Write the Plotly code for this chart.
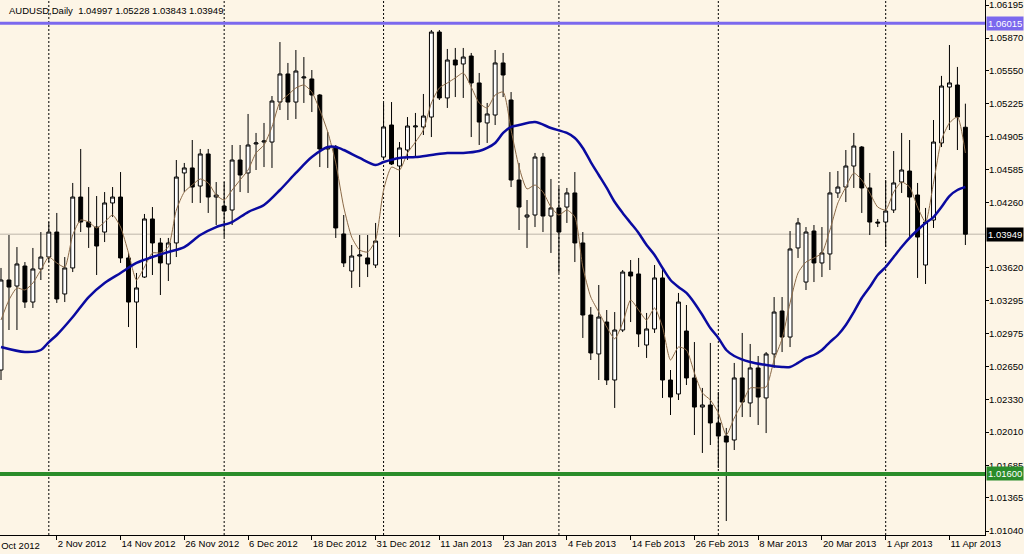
import plotly.graph_objects as go

# ---------------- data ----------------
symbol = "AUDUSD,Daily"

open_ = [1.02618, 1.03500, 1.03441, 1.03637, 1.03284, 1.03608, 1.03725, 1.03970, 1.03363, 1.03618,
         1.04313, 1.04068, 1.04019, 1.03970, 1.04255, 1.04313, 1.03716, 1.03284, 1.03529, 1.04098,
         1.03863, 1.03657, 1.03863, 1.04549, 1.04598, 1.04421, 1.04735, 1.04313, 1.04225, 1.04186,
         1.04676, 1.04549, 1.04833, 1.04852, 1.04852, 1.05244, 1.05519, 1.05244, 1.05480, 1.05470,
         1.05313, 1.04784, 1.04794, 1.03951, 1.03588, 1.03735, 1.03716, 1.03647, 1.04705, 1.05019,
         1.04617, 1.04774, 1.05000, 1.05000, 1.05097, 1.05930, 1.05284, 1.05656, 1.05617, 1.05695,
         1.05431, 1.05039, 1.05117, 1.05627, 1.05264, 1.04480, 1.04117, 1.04137, 1.04705, 1.04127,
         1.04206, 1.04215, 1.04353, 1.03863, 1.03157, 1.02775, 1.03088, 1.02520, 1.03010, 1.03578,
         1.03559, 1.02863, 1.03020, 1.03520, 1.02520, 1.02383, 1.03000, 1.02540, 1.02255, 1.02275,
         1.02099, 1.01971, 1.01932, 1.02540, 1.02295, 1.02638, 1.02344, 1.02775, 1.03196, 1.02941,
         1.03814, 1.03480, 1.03980, 1.03667, 1.03755, 1.04353, 1.04411, 1.04617, 1.04803, 1.04402,
         1.04068, 1.04068, 1.04186, 1.04460, 1.04568, 1.04333, 1.03647, 1.04088, 1.04843, 1.05391,
         1.05411, 1.04997]
high = [1.03618, 1.03941, 1.03823, 1.03676, 1.03814, 1.03970, 1.04068, 1.04157, 1.03725, 1.04451,
        1.04784, 1.04411, 1.04323, 1.04362, 1.04411, 1.04558, 1.03765, 1.03569, 1.04147, 1.04215,
        1.03912, 1.03912, 1.04676, 1.04647, 1.04872, 1.04784, 1.04784, 1.04460, 1.04460, 1.04823,
        1.04823, 1.05127, 1.04941, 1.05039, 1.05303, 1.05832, 1.05627, 1.05754, 1.05685, 1.05558,
        1.05323, 1.04950, 1.04823, 1.04137, 1.03843, 1.03941, 1.03941, 1.04059, 1.05235, 1.05244,
        1.04852, 1.05097, 1.05137, 1.05323, 1.05950, 1.05950, 1.05764, 1.05774, 1.05774, 1.05725,
        1.05529, 1.05235, 1.05754, 1.05725, 1.05342, 1.04647, 1.04284, 1.04745, 1.04745, 1.04490,
        1.04411, 1.04402, 1.04558, 1.03970, 1.03235, 1.03451, 1.03206, 1.03186, 1.03598, 1.03696,
        1.03716, 1.03177, 1.03647, 1.03618, 1.02618, 1.03373, 1.03255, 1.02892, 1.02442, 1.02883,
        1.02402, 1.02050, 1.02687, 1.02981, 1.02873, 1.02755, 1.02794, 1.03333, 1.03333, 1.03980,
        1.04108, 1.04019, 1.04039, 1.04019, 1.04558, 1.04568, 1.04774, 1.04941, 1.04813, 1.04549,
        1.04098, 1.04480, 1.04764, 1.04941, 1.04872, 1.04451, 1.04206, 1.05068, 1.05500, 1.05803,
        1.05588, 1.05228]
low = [1.02520, 1.03010, 1.03010, 1.03226, 1.03226, 1.03500, 1.03676, 1.03275, 1.03284, 1.03578,
       1.03970, 1.03814, 1.03549, 1.03872, 1.04117, 1.03667, 1.03039, 1.02834, 1.03520, 1.03549,
       1.03353, 1.03490, 1.03725, 1.04362, 1.04255, 1.04255, 1.04157, 1.04039, 1.03921, 1.04039,
       1.04362, 1.04353, 1.04578, 1.04607, 1.04598, 1.05166, 1.05068, 1.05078, 1.05235, 1.05146,
       1.04607, 1.04598, 1.03912, 1.03627, 1.03422, 1.03431, 1.03529, 1.03618, 1.04676, 1.04627,
       1.03921, 1.04676, 1.04705, 1.04921, 1.04901, 1.05264, 1.05186, 1.05293, 1.05284, 1.04901,
       1.04823, 1.04843, 1.05019, 1.05293, 1.04411, 1.03990, 1.03814, 1.04019, 1.03970, 1.03765,
       1.03569, 1.04059, 1.03676, 1.02932, 1.02716, 1.02520, 1.02471, 1.02246, 1.02990, 1.03088,
       1.02843, 1.02736, 1.02981, 1.02344, 1.02177, 1.02324, 1.02471, 1.01981, 1.01805, 1.01883,
       1.01658, 1.01138, 1.01834, 1.02157, 1.02157, 1.02079, 1.02000, 1.02638, 1.02794, 1.02843,
       1.03716, 1.03402, 1.03480, 1.03529, 1.03598, 1.04304, 1.04264, 1.04402, 1.04157, 1.03941,
       1.04019, 1.03823, 1.04157, 1.04353, 1.03921, 1.03520, 1.03461, 1.04010, 1.04803, 1.04970,
       1.04774, 1.03843]
close = [1.03500, 1.03431, 1.03657, 1.03284, 1.03608, 1.03725, 1.03970, 1.03314, 1.03618, 1.04313,
         1.04068, 1.04019, 1.03833, 1.04255, 1.04313, 1.03716, 1.03284, 1.03422, 1.04098, 1.03863,
         1.03667, 1.03863, 1.04509, 1.04598, 1.04411, 1.04735, 1.04313, 1.04333, 1.04176, 1.04676,
         1.04529, 1.04823, 1.04843, 1.04862, 1.05254, 1.05519, 1.05244, 1.05548, 1.05489, 1.05313,
         1.04784, 1.04803, 1.04010, 1.03667, 1.03735, 1.03745, 1.03657, 1.03882, 1.05000, 1.04637,
         1.04794, 1.05009, 1.05009, 1.05107, 1.05930, 1.05284, 1.05656, 1.05607, 1.05685, 1.05431,
         1.05048, 1.05127, 1.05627, 1.05509, 1.04480, 1.04215, 1.04137, 1.04705, 1.04127, 1.04206,
         1.03970, 1.04353, 1.03863, 1.03157, 1.02785, 1.03137, 1.02520, 1.03010, 1.03578, 1.03539,
         1.02971, 1.03020, 1.03520, 1.02520, 1.02353, 1.03284, 1.02540, 1.02255, 1.02275, 1.02099,
         1.01971, 1.01912, 1.02540, 1.02304, 1.02638, 1.02353, 1.02775, 1.03186, 1.02941, 1.03804,
         1.04059, 1.03970, 1.03667, 1.03765, 1.04353, 1.04411, 1.04617, 1.04813, 1.04402, 1.04068,
         1.04059, 1.04176, 1.04451, 1.04578, 1.04313, 1.03921, 1.04068, 1.04852, 1.05401, 1.05431,
         1.05097, 1.03949]

# thin brown moving average (one reading per bar)
fast_ma = [1.03108, 1.03304, 1.03422, 1.03402, 1.03471, 1.03598, 1.03725, 1.03667, 1.03627, 1.03941,
           1.04088, 1.04068, 1.04010, 1.04068, 1.04137, 1.04019, 1.03765, 1.03500, 1.03627, 1.03765,
           1.03765, 1.03823, 1.04186, 1.04362, 1.04431, 1.04490, 1.04451, 1.04333, 1.04284, 1.04382,
           1.04480, 1.04578, 1.04745, 1.04823, 1.05000, 1.05244, 1.05313, 1.05382, 1.05411, 1.05342,
           1.05166, 1.04950, 1.04647, 1.04215, 1.03921, 1.03794, 1.03774, 1.03892, 1.04382, 1.04607,
           1.04578, 1.04745, 1.04852, 1.04970, 1.05235, 1.05382, 1.05431, 1.05480, 1.05529, 1.05391,
           1.05235, 1.05186, 1.05313, 1.05342, 1.04970, 1.04607, 1.04392, 1.04431, 1.04362, 1.04215,
           1.04137, 1.04186, 1.04117, 1.03627, 1.03333, 1.03186, 1.03039, 1.02924, 1.03078, 1.03304,
           1.03206, 1.03108, 1.03226, 1.03039, 1.02716, 1.02843, 1.02814, 1.02589, 1.02393, 1.02324,
           1.02197, 1.01981, 1.02148, 1.02295, 1.02442, 1.02442, 1.02452, 1.02716, 1.02924, 1.03275,
           1.03569, 1.03676, 1.03716, 1.03765, 1.03990, 1.04255, 1.04411, 1.04549, 1.04480, 1.04353,
           1.04215, 1.04186, 1.04362, 1.04460, 1.04411, 1.04215, 1.04068, 1.04451, 1.04872, 1.05039,
           1.05097, 1.04745]

# thick blue moving average (read at these bars)
slow_ma_bars = [0, 3, 5, 6, 7, 9, 11, 13, 15, 17, 19, 21, 23, 25, 27, 29, 31, 33, 35, 37, 39, 41, 42, 43,
                45, 47, 48, 50, 52, 54, 56, 58, 60, 61, 62, 63, 64, 65, 67, 69, 71, 72, 73, 74, 75, 76,
                77, 78, 79, 80, 81, 82, 83, 84, 85, 86, 87, 88, 89, 90, 91, 92, 94, 96, 98, 99, 100,
                101, 102, 103, 104, 105, 106, 107, 108, 109, 110, 111, 112, 113, 114, 115, 116, 117,
                118, 119, 120, 121]
slow_ma = [1.02843, 1.02794, 1.02814, 1.02892, 1.02961, 1.03137, 1.03333, 1.03471, 1.03569, 1.03667,
           1.03725, 1.03774, 1.03823, 1.03941, 1.04019, 1.04068, 1.04166, 1.04235, 1.04382, 1.04549,
           1.04705, 1.04803, 1.04803, 1.04774, 1.04696, 1.04627, 1.04656, 1.04696, 1.04705, 1.04725,
           1.04745, 1.04745, 1.04764, 1.04794, 1.04843, 1.04941, 1.05000, 1.05019, 1.05048, 1.04990,
           1.04941, 1.04892, 1.04794, 1.04656, 1.04529, 1.04402, 1.04264, 1.04157, 1.04059, 1.03961,
           1.03843, 1.03745, 1.03618, 1.03500, 1.03431, 1.03373, 1.03275, 1.03157, 1.03030, 1.02932,
           1.02814, 1.02755, 1.02696, 1.02667, 1.02647, 1.02647, 1.02687, 1.02736, 1.02765, 1.02814,
           1.02892, 1.02961, 1.03059, 1.03186, 1.03324, 1.03431, 1.03549, 1.03627, 1.03725, 1.03823,
           1.03912, 1.03990, 1.04059, 1.04117, 1.04215, 1.04323, 1.04382, 1.04411]

# horizontal levels
resistance = 1.06015
support = 1.01600

# time axis labels (bar number -> label)
date_label_bars = [7, 15, 23, 31, 39, 47, 55, 63, 71, 79, 87, 95, 103, 111, 119]
date_labels = ["2 Nov 2012", "14 Nov 2012", "26 Nov 2012", "6 Dec 2012", "18 Dec 2012",
               "31 Dec 2012", "11 Jan 2013", "23 Jan 2013", "4 Feb 2013", "14 Feb 2013",
               "26 Feb 2013", "8 Mar 2013", "20 Mar 2013", "1 Apr 2013", "11 Apr 2013"]
first_partial_label = "23 Oct 2012"
# first bar of each month (period separators)
month_start_bars = [6, 28, 48, 70, 90, 111]

price_ticks = [1.06195, 1.05870, 1.05550, 1.05225, 1.04905, 1.04585, 1.04260,
               1.03620, 1.03295, 1.02975, 1.02650, 1.02330, 1.02010, 1.01685, 1.01365, 1.01040]

# ---------------- figure ----------------
BG = "#FDF5E6"
FONT = "Liberation Sans"
bars = list(range(len(close)))

fig = go.Figure()
fig.add_trace(go.Candlestick(
    x=bars, open=open_, high=high, low=low, close=close,
    increasing=dict(line=dict(color="#000000", width=1), fillcolor="#FFFFFF"),
    decreasing=dict(line=dict(color="#000000", width=1), fillcolor="#000000"),
    whiskerwidth=0, hoverinfo="skip", showlegend=False,
))
fig.add_trace(go.Scatter(
    x=bars, y=fast_ma, mode="lines",
    line=dict(color="#8B6A48", width=1, shape="spline", smoothing=0.6),
    hoverinfo="skip", showlegend=False,
))
fig.add_trace(go.Scatter(
    x=slow_ma_bars, y=slow_ma, mode="lines",
    line=dict(color="#0A0AA0", width=2.5, shape="spline", smoothing=0.8),
    hoverinfo="skip", showlegend=False,
))

shapes = []
for b in month_start_bars:
    shapes.append(dict(type="line", xref="x", yref="paper", x0=b, x1=b, y0=0, y1=1,
                       line=dict(color="#000000", width=1, dash="2px,2px"), layer="below"))
shapes.append(dict(type="line", xref="paper", yref="y", x0=0, x1=1, y0=close[-1], y1=close[-1],
                   line=dict(color="#BDB6AA", width=1), layer="below"))
shapes.append(dict(type="line", xref="paper", yref="y", x0=0, x1=1, y0=resistance, y1=resistance,
                   line=dict(color="#7B68EE", width=3), layer="above"))
shapes.append(dict(type="line", xref="paper", yref="y", x0=0, x1=1, y0=support, y1=support,
                   line=dict(color="#2A8C2A", width=4), layer="above"))

annotations = [
    dict(xref="paper", yref="paper", x=0, y=1, xanchor="left", yanchor="top",
         xshift=7, yshift=-3, showarrow=False,
         text=f"{symbol}  {open_[-1]:.5f} {high[-1]:.5f} {low[-1]:.5f} {close[-1]:.5f}",
         font=dict(family=FONT, size=9.5, color="#000000")),
    dict(xref="paper", yref="paper", x=0.0427, y=0, xanchor="right", yanchor="top",
         yshift=-3, showarrow=False, text=first_partial_label,
         font=dict(family=FONT, size=9.5, color="#000000")),
]
for val, bg, fg in [(resistance, "#7B68EE", "#FFFFFF"), (close[-1], "#000000", "#FFFFFF"),
                    (support, "#2A8C2A", "#FFFFFF")]:
    annotations.append(dict(
        xref="paper", yref="y", x=1, y=val, xanchor="left", yanchor="middle", xshift=1,
        showarrow=False, text=f"{val:.5f}", bgcolor=bg, borderpad=1,
        font=dict(family=FONT, size=9.5, color=fg)))

fig.update_layout(
    width=1024, height=554,
    margin=dict(l=0, r=39, t=0, b=19, pad=0),
    paper_bgcolor=BG, plot_bgcolor=BG,
    showlegend=False,
    shapes=shapes, annotations=annotations,
    xaxis=dict(
        range=[-0.125, 123.46], rangeslider=dict(visible=False),
        tickmode="array", tickvals=date_label_bars, ticktext=date_labels,
        ticklabelposition="outside right", tickangle=0, ticklabeloverflow="allow",
        ticks="outside", ticklen=4, tickcolor="#000000", tickwidth=1,
        showline=True, linecolor="#000000", linewidth=1, mirror=True,
        showgrid=False, zeroline=False,
        tickfont=dict(family=FONT, size=9.5, color="#000000"),
    ),
    yaxis=dict(
        range=[1.01001, 1.06244], side="right",
        tickmode="array", tickvals=price_ticks, ticktext=[f"{v:.5f}" for v in price_ticks],
        ticks="outside", ticklen=3, tickcolor="#000000", tickwidth=1,
        ticklabelstandoff=-2, ticklabeloverflow="allow",
        showline=True, linecolor="#000000", linewidth=1,
        showgrid=False, zeroline=False,
        tickfont=dict(family=FONT, size=9.5, color="#000000"),
    ),
)

fig.write_html(
    "out.html",
    config={"displayModeBar": False},
    post_script="document.body.style.margin='0';document.body.style.background='" + BG + "';",
)
